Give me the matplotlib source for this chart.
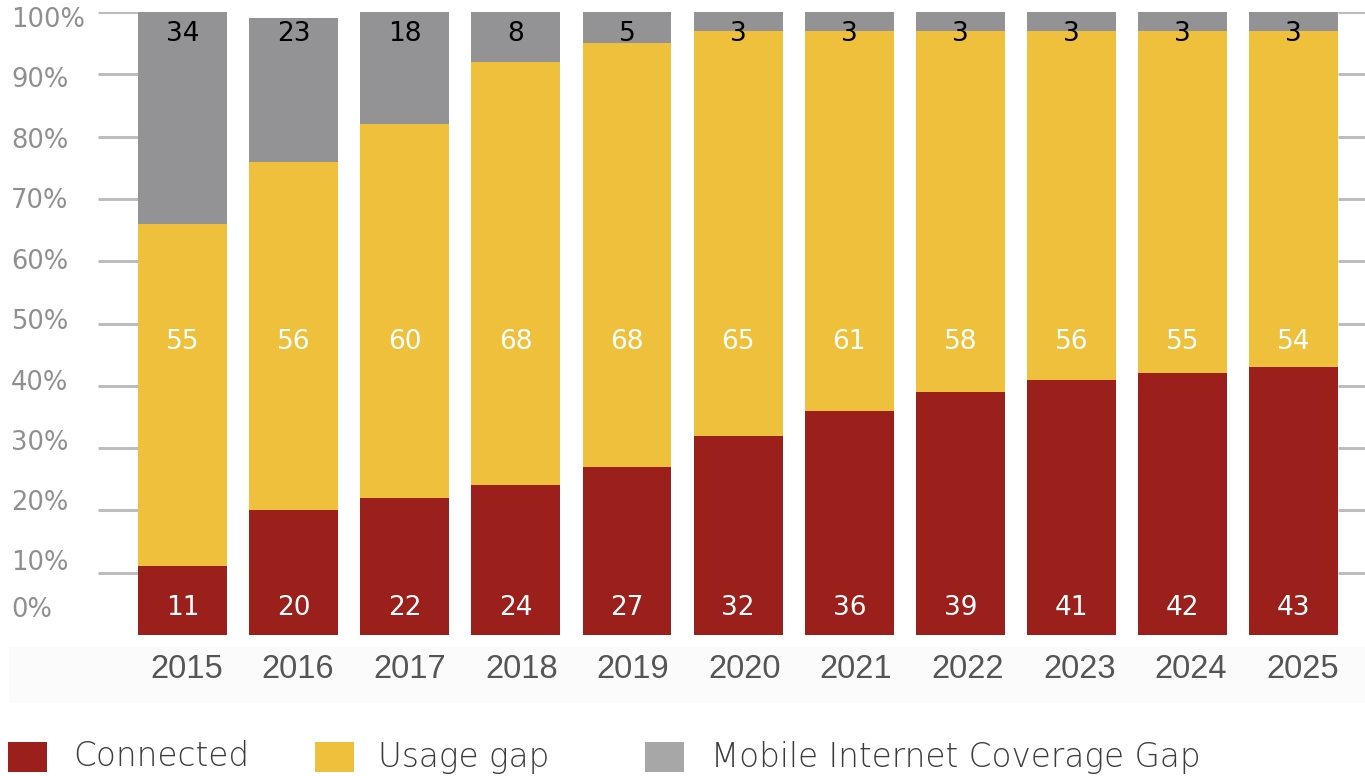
import numpy as np
import matplotlib
matplotlib.use("Agg")
import matplotlib.pyplot as plt
from matplotlib.patches import Rectangle

# ---- data ----
years = ["2015", "2016", "2017", "2018", "2019", "2020",
         "2021", "2022", "2023", "2024", "2025"]
connected = [11, 20, 22, 24, 27, 32, 36, 39, 41, 42, 43]
usage_gap = [55, 56, 60, 68, 68, 65, 61, 58, 56, 55, 54]
coverage_gap = [34, 23, 18, 8, 5, 3, 3, 3, 3, 3, 3]

pct_ticks = [100, 90, 80, 70, 60, 50, 40, 30, 20, 10, 0]
pct_labels = [f"{t}%" for t in pct_ticks]

# ---- styling ----
RED = "#9b1f1a"
YELLOW = "#efc03b"
GRAY = "#939396"
GRAY_LEGEND = "#a7a7a7"
GRID = "#bdbdbd"
W, H = 1365, 776

fig = plt.figure(figsize=(W / 100, H / 100), dpi=100)
fig.patch.set_facecolor("white")

# faint band behind the year labels
fig.patches.append(Rectangle((9 / W, 1 - 703 / H), 1 - 9 / W, 56 / H,
                             transform=fig.transFigure, facecolor="#fbfbfb",
                             edgecolor="none", zorder=-5))

ax = fig.add_axes([98 / W, 1 - 635 / H, 1 - 98 / W, 623 / H])
ax.set_facecolor("none")

x = np.arange(len(years))
bw = 0.8
conn = np.array(connected)
usage = np.array(usage_gap)
cov = np.array(coverage_gap)

ax.bar(x, conn, bw, color=RED, zorder=3)
ax.bar(x, usage, bw, bottom=conn, color=YELLOW, zorder=3)
ax.bar(x, cov, bw, bottom=conn + usage, color=GRAY, zorder=3)

ax.set_xlim(-0.76, 10.64)
ax.set_ylim(0, 100)
ax.axis("off")

# short guide stubs outside the first and last bar (no line at 0)
guide = [t for t in pct_ticks if t > 0]
ax.hlines(guide, -0.76, x[0] - bw / 2, colors=GRID, linewidth=2.2, zorder=1)
ax.hlines(guide, x[-1] + bw / 2, 10.64, colors=GRID, linewidth=2.2, zorder=1)

# value labels sit at fixed heights inside each segment
val_font = dict(family="DejaVu Sans", fontsize=19, ha="center", va="center", zorder=5)
for i in range(len(years)):
    ax.text(x[i], 4.3, str(connected[i]), color="white", **val_font)
    ax.text(x[i], 47.1, str(usage_gap[i]), color="white", **val_font)
    ax.text(x[i], 96.4, str(coverage_gap[i]), color="black", **val_font)

# year labels under the bars (drift slightly right of the bar centres)
for i, yr in enumerate(years):
    xf = (ax.transData.transform((x[i], 0))[0] + 4 + 0.45 * i) / W
    fig.text(xf, 1 - 669 / H, yr, family="Liberation Sans", fontsize=23.5,
             color="#555555", ha="center", va="center")

# percentage labels on the left
label_px = [20, 80, 141, 201, 262, 322, 383, 443, 503, 563, 610]
for lab, py in zip(pct_labels, label_px):
    fig.text(11 / W, 1 - py / H, lab, family="DejaVu Sans", fontsize=18.5,
             color="#8f8f8f", ha="left", va="center")

# legend
legend_items = [("Connected", RED, 8, 73),
                ("Usage gap", YELLOW, 315, 378),
                ("Mobile Internet Coverage Gap", GRAY_LEGEND, 645, 711)]
for name, col, px, tx in legend_items:
    fig.patches.append(Rectangle((px / W, 1 - 772 / H), 39 / W, 30 / H,
                                 transform=fig.transFigure, facecolor=col,
                                 edgecolor="none"))
    fig.text(tx / W, 1 - 757 / H, name, family="DejaVu Sans", fontweight="light",
             fontsize=23.5, color="#3c3c3c", ha="left", va="center")

fig.savefig("out.png", dpi=100)
